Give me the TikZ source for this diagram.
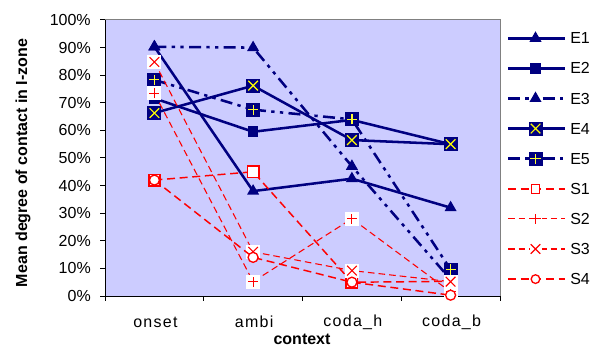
\documentclass[tikz,border=0pt]{standalone}
\usepackage{fontspec}
\setmainfont{Liberation Sans}
\usetikzlibrary{shapes.geometric,calc}
\definecolor{navy}{HTML}{000080}
\definecolor{plotbg}{HTML}{CCCCFF}
\definecolor{ered}{HTML}{FF0000}
\definecolor{eyel}{HTML}{FFFF00}
\definecolor{framegray}{HTML}{808080}
\newcommand\pyv[1]{296-2.76*#1}
\begin{document}
\begin{tikzpicture}[x=0.75pt,y=-0.75pt,
  lbl/.style={font=\fontsize{12}{14}\selectfont, inner sep=0},
  catlbl/.style={font=\fontsize{12}{14}\selectfont\addfontfeatures{LetterSpace=8}, inner sep=0},
  blbl/.style={font=\fontsize{12}{14}\selectfont\bfseries, inner sep=0},
  eline/.style={navy, line width=1.9pt},
  e3line/.style={eline, dash pattern=on 9pt off 4pt on 2.5pt off 4pt on 2.5pt off 4pt},
  s14line/.style={ered, line width=1.1pt, dash pattern=on 6pt off 3.5pt},
  s23line/.style={ered, line width=0.8pt, dash pattern=on 5pt off 3pt},
  tri/.style={regular polygon, regular polygon sides=3, fill=navy, inner sep=0, minimum size=10.5pt},
  esq/.style={rectangle, fill=navy, inner sep=0, minimum size=8pt},
  e4m/.style={rectangle, fill=navy, inner sep=0, minimum size=10.5pt,
    path picture={\draw[eyel,line width=0.9pt]
      ($(path picture bounding box.center)+(-3.6pt,-3.6pt)$) -- ($(path picture bounding box.center)+(3.6pt,3.6pt)$)
      ($(path picture bounding box.center)+(-3.6pt,3.6pt)$) -- ($(path picture bounding box.center)+(3.6pt,-3.6pt)$);}},
  e5m/.style={rectangle, fill=navy, inner sep=0, minimum size=10.5pt,
    path picture={\draw[eyel!80!white,line width=0.9pt]
      ($(path picture bounding box.center)+(-3.8pt,0pt)$) -- ($(path picture bounding box.center)+(3.8pt,0pt)$)
      ($(path picture bounding box.center)+(0pt,-3.8pt)$) -- ($(path picture bounding box.center)+(0pt,3.8pt)$);}},
  s1m/.style={rectangle, draw=ered, fill=white, line width=1.2pt, inner sep=0, minimum size=8.5pt},
  s2m/.style={rectangle, fill=white, inner sep=0, minimum size=10.5pt,
    path picture={\draw[ered,line width=0.8pt]
      ($(path picture bounding box.center)+(-3.8pt,0pt)$) -- ($(path picture bounding box.center)+(3.8pt,0pt)$)
      ($(path picture bounding box.center)+(0pt,-3.8pt)$) -- ($(path picture bounding box.center)+(0pt,3.8pt)$);}},
  s3m/.style={rectangle, fill=white, inner sep=0, minimum size=10.5pt,
    path picture={\draw[ered,line width=0.8pt]
      ($(path picture bounding box.center)+(-3.6pt,-3.6pt)$) -- ($(path picture bounding box.center)+(3.6pt,3.6pt)$)
      ($(path picture bounding box.center)+(-3.6pt,3.6pt)$) -- ($(path picture bounding box.center)+(3.6pt,-3.6pt)$);}},
  s4m/.style={circle, draw=ered, fill=white, line width=1pt, inner sep=0, minimum size=7.5pt},
]
\useasboundingbox[fill=white] (0,0) rectangle (597,346);
% plot area
\fill[plotbg] (105,20) rectangle (500,296);
\draw[framegray, line width=0.75pt] (105,20) -- (500,20) -- (500,296);
\draw[black, line width=0.75pt] (105,20) -- (105,296) -- (500,296);
% y ticks and labels
\foreach \v in {0,...,10}{
  \pgfmathtruncatemacro\pc{\v*10}
  \draw[black, line width=0.75pt] (100,{296-27.6*\v}) -- (105,{296-27.6*\v});
  \node[lbl, anchor=east] (yl\v) at (91,{296-27.6*\v}) {\pc\%};
}
% x ticks
\foreach \i in {0,...,4}{
  \draw[black, line width=0.75pt] ({105+98.75*\i},296) -- ({105+98.75*\i},301);
}
\node[catlbl] (xa) at (155.4,322) {onset};
\node[catlbl] (xb) at (254.1,322) {ambi};
\node[catlbl] (xc) at (352.9,322) {coda\_h};
\node[catlbl] (xd) at (451.6,322) {coda\_b};
\node[blbl] (xtitle) at (302,339) {context};
\node[blbl, rotate=90] (ytitle) at (23,163) {Mean degree of contact in I-zone};

% data coordinates
\coordinate (e1a) at (154.4,{\pyv{90.3}});
\coordinate (e1b) at (253.1,{\pyv{38}});
\coordinate (e1c) at (351.9,{\pyv{42.5}});
\coordinate (e1d) at (450.6,{\pyv{32}});
\coordinate (e2a) at (154.4,{\pyv{71.6}});
\coordinate (e2b) at (253.1,{\pyv{59.5}});
\coordinate (e2c) at (351.9,{\pyv{63.8}});
\coordinate (e2d) at (450.6,{\pyv{55}});
\coordinate (e3a) at (154.4,{\pyv{90.3}});
\coordinate (e3b) at (253.1,{\pyv{90}});
\coordinate (e3c) at (351.9,{\pyv{47}});
\coordinate (e3d) at (450.6,{\pyv{6}});
\coordinate (e4a) at (154.4,{\pyv{66.3}});
\coordinate (e4b) at (253.1,{\pyv{76.2}});
\coordinate (e4c) at (351.9,{\pyv{56.5}});
\coordinate (e4d) at (450.6,{\pyv{55}});
\coordinate (e5a) at (154.4,{\pyv{78.3}});
\coordinate (e5b) at (253.1,{\pyv{67.5}});
\coordinate (e5c) at (351.9,{\pyv{64}});
\coordinate (e5d) at (450.6,{\pyv{9.6}});
\coordinate (s1a) at (154.4,{\pyv{42}});
\coordinate (s1b) at (253.1,{\pyv{45}});
\coordinate (s1c) at (351.9,{\pyv{5}});
\coordinate (s1d) at (450.6,{\pyv{5.3}});
\coordinate (s2a) at (154.4,{\pyv{73.4}});
\coordinate (s2b) at (253.1,{\pyv{5.2}});
\coordinate (s2c) at (351.9,{\pyv{28}});
\coordinate (s2d) at (450.6,{\pyv{1.5}});
\coordinate (s3a) at (154.4,{\pyv{84.8}});
\coordinate (s3b) at (253.1,{\pyv{16}});
\coordinate (s3c) at (351.9,{\pyv{9.2}});
\coordinate (s3d) at (450.6,{\pyv{5.2}});
\coordinate (s4a) at (154.4,{\pyv{42}});
\coordinate (s4b) at (253.1,{\pyv{14}});
\coordinate (s4c) at (351.9,{\pyv{5}});
\coordinate (s4d) at (450.6,{\pyv{0.3}});

% series E1
\draw[eline] (e1a) -- (e1b) -- (e1c) -- (e1d);
\foreach \p in {a,b,c,d} \node[tri] (me1\p) at (e1\p) {};
% series E2
\draw[eline] (e2a) -- (e2b) -- (e2c) -- (e2d);
\foreach \p in {a,b,c,d} \node[esq] (me2\p) at (e2\p) {};
% series E3
\draw[e3line] (e3a) -- (e3b) -- (e3c) -- (e3d);
\foreach \p in {a,b,c,d} \node[tri] (me3\p) at (e3\p) {};
% series E4
\draw[eline] (e4a) -- (e4b) -- (e4c) -- (e4d);
\foreach \p in {a,b,c,d} \node[e4m] (me4\p) at (e4\p) {};
% series E5
\draw[e3line] (e5a) -- (e5b) -- (e5c) -- (e5d);
\foreach \p in {a,b,c,d} \node[e5m] (me5\p) at (e5\p) {};
% series S1
\draw[s14line] (s1a) -- (s1b) -- (s1c) -- (s1d);
\foreach \p in {a,b,c,d} \node[s1m] (ms1\p) at (s1\p) {};
% series S2
\draw[s23line] (s2a) -- (s2b) -- (s2c) -- (s2d);
\foreach \p in {a,b,c,d} \node[s2m] (ms2\p) at (s2\p) {};
% series S3
\draw[s23line] (s3a) -- (s3b) -- (s3c) -- (s3d);
\foreach \p in {a,b,c,d} \node[s3m] (ms3\p) at (s3\p) {};
% series S4
\draw[s14line] (s4a) -- (s4b) -- (s4c) -- (s4d);
\foreach \p in {a,b,c,d} \node[s4m] (ms4\p) at (s4\p) {};

% legend
\foreach \i/\nm in {0/E1,1/E2,2/E3,3/E4,4/E5,5/S1,6/S2,7/S3,8/S4}{
  \coordinate (lgl\nm) at (508,{38.3+30.1*\i});
  \coordinate (lgr\nm) at (565,{38.3+30.1*\i});
  \coordinate (lgm\nm) at (535.5,{38.3+30.1*\i});
  \node[lbl, anchor=west] (lgt\nm) at (570,{38.3+30.1*\i}) {\nm};
}
\draw[eline] (lglE1) -- (lgrE1); \node[tri] (lmE1) at (lgmE1) {};
\draw[eline] (lglE2) -- (lgrE2); \node[esq] (lmE2) at (lgmE2) {};
\draw[e3line] (lglE3) -- (lgrE3); \node[tri] (lmE3) at (lgmE3) {};
\draw[eline] (lglE4) -- (lgrE4); \node[e4m] (lmE4) at (lgmE4) {};
\draw[e3line] (lglE5) -- (lgrE5); \node[e5m] (lmE5) at (lgmE5) {};
\draw[s14line] (lglS1) -- (lgrS1); \node[s1m, minimum size=6.5pt, line width=0.9pt] (lmS1) at (lgmS1) {};
\draw[s23line] (lglS2) -- (lgrS2); \node[s2m, minimum size=9pt] (lmS2) at (lgmS2) {};
\draw[s23line] (lglS3) -- (lgrS3); \node[s3m, minimum size=9pt] (lmS3) at (lgmS3) {};
\draw[s14line] (lglS4) -- (lgrS4); \node[s4m, minimum size=6.5pt] (lmS4) at (lgmS4) {};
\end{tikzpicture}
\end{document}
